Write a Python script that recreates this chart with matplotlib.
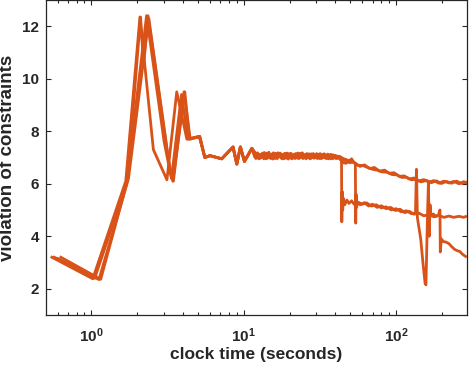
import matplotlib
matplotlib.use("Agg")
import matplotlib.pyplot as plt
from matplotlib.ticker import FixedLocator, LogLocator, NullFormatter, NullLocator

plt.rcParams['font.family'] = ['Liberation Sans', 'DejaVu Sans']
plt.rcParams['font.weight'] = 'bold'
plt.rcParams['mathtext.fontset'] = 'custom'
plt.rcParams['mathtext.bf'] = 'Liberation Sans:bold'
plt.rcParams['mathtext.rm'] = 'Liberation Sans:bold'

COLOR = '#D95319'
AXC = '#262626'

# ---------------- data ----------------
# early transient, one list per run
a_early_x = [0.55, 1.02, 1.68, 2.08, 2.55, 3.13, 3.63, 4.23, 5.10]
a_early_y = [3.20, 2.38, 6.10, 12.35, 7.30, 6.15, 9.50, 7.70, 7.80]
b_early_x = [0.63, 1.15, 1.72, 2.10, 2.20, 2.35, 3.20, 3.42, 4.10, 4.40, 5.14]
b_early_y = [3.20, 2.36, 6.10, 12.35, 10.50, 12.40, 6.90, 6.10, 9.50, 7.70, 7.80]
c_early_x = [0.57, 1.05, 1.70, 2.30, 3.00, 3.35, 3.90, 4.30, 5.12]
c_early_y = [3.20, 2.40, 6.00, 12.40, 7.60, 6.20, 9.40, 7.70, 7.80]
d_early_x = [0.60, 1.12, 1.75, 2.38, 3.30, 3.45, 4.05, 4.45, 5.14]
d_early_y = [3.15, 2.35, 6.20, 12.30, 6.40, 6.10, 9.50, 7.70, 7.80]

# shared settling segment
settle_x = [5.55, 6.00, 7.17, 8.50, 9.00, 9.50, 10.1, 11.3]
settle_y = [7.00, 7.07, 6.95, 7.40, 6.75, 7.40, 6.85, 7.35]

# noisy plateau, each run sampled at its own times
a_plat_x = [11.8, 12.3, 12.9, 13.4, 14.0, 14.6, 15.2, 15.9, 16.6, 17.3, 18.0,
            18.8, 19.6, 20.4, 21.3, 22.2, 23.2, 24.2, 25.2, 26.3, 27.4, 28.6,
            29.8, 31.1, 32.4, 33.8, 35.2, 36.7, 38.3, 39.9, 41.6]
b_plat_x = [11.9, 12.4, 13.0, 13.55, 14.15, 14.75, 15.35, 16.05, 16.75, 17.5,
            18.2, 19.0, 19.8, 20.6, 21.5, 22.4, 23.4, 24.45, 25.45, 26.55,
            27.7, 28.9, 30.1, 31.4, 32.7, 34.1, 35.55, 37.05, 38.7, 40.3, 41.9]
c_plat_x = [12.0, 12.55, 13.15, 13.65, 14.3, 14.9, 15.5, 16.2, 16.9, 17.65,
            18.35, 19.2, 20.0, 20.8, 21.7, 22.65, 23.65, 24.7, 25.7, 26.8,
            27.95, 29.15, 30.4, 31.7, 33.05, 34.5, 35.9, 37.45, 39.05, 40.7,
            42.4]
d_plat_x = [12.15, 12.65, 13.3, 13.8, 14.4, 15.05, 15.65, 16.4, 17.1, 17.8,
            18.55, 19.35, 20.2, 21.0, 21.95, 22.85, 23.9, 24.9, 25.95, 27.1,
            28.2, 29.45, 30.7, 32.0, 33.35, 34.8, 36.25, 37.8, 39.45, 41.1,
            42.85]
a_plat_y = [7.02, 7.18, 6.98, 7.15, 6.95, 7.20, 7.00, 7.12, 6.96, 7.17, 6.99,
            7.14, 6.94, 7.16, 7.01, 7.13, 6.97, 7.18, 6.98, 7.11, 6.95, 7.15,
            7.00, 7.12, 6.96, 7.14, 6.98, 7.10, 6.95, 7.08, 6.97]
b_plat_y = [7.16, 6.97, 7.13, 6.95, 7.17, 6.99, 7.14, 6.96, 7.18, 7.00, 7.12,
            6.97, 7.15, 6.95, 7.13, 6.98, 7.16, 6.96, 7.12, 6.99, 7.14, 6.97,
            7.15, 6.96, 7.11, 6.98, 7.13, 6.95, 7.10, 6.96, 7.05]
c_plat_y = [6.96, 7.12, 7.00, 7.19, 6.97, 7.10, 6.94, 7.16, 7.02, 7.13, 6.95,
            7.17, 6.99, 7.11, 6.96, 7.17, 7.00, 7.12, 6.95, 7.14, 6.99, 7.10,
            6.96, 7.15, 6.99, 7.09, 6.95, 7.12, 6.98, 7.06, 7.00]
d_plat_y = [7.10, 6.95, 7.17, 7.01, 7.12, 6.96, 7.18, 6.98, 7.11, 6.95, 7.16,
            7.00, 7.13, 6.97, 7.15, 6.96, 7.11, 6.99, 7.15, 6.96, 7.12, 6.99,
            7.11, 6.97, 7.13, 6.96, 7.10, 6.99, 7.07, 6.97, 7.03]

# upper tail (runs A and D stay here)
a_tail_x = [44, 47, 50, 54, 58, 62, 67, 72, 78, 84, 90, 97, 105, 113, 122,
            131, 141, 152, 164, 177, 191, 206, 222, 239, 258, 278, 292]
a_tail_y = [6.98, 6.92, 6.86, 6.78, 6.66, 6.72, 6.58, 6.62, 6.48, 6.52, 6.40,
            6.42, 6.28, 6.30, 6.18, 6.22, 6.10, 6.16, 6.06, 6.12, 6.02, 6.10,
            6.03, 6.09, 6.00, 6.08, 6.02]
d_tail_x = [43, 45, 47, 49, 51, 53, 56, 60, 65, 70, 75, 81, 87, 94, 101, 109,
            117, 126, 136, 146, 158, 170, 184, 198, 214, 231, 249, 268, 290]
d_tail_y = [6.92, 6.80, 6.78, 6.86, 6.95, 6.80, 6.70, 6.70, 6.62, 6.55, 6.52,
            6.45, 6.44, 6.35, 6.34, 6.24, 6.25, 6.15, 6.17, 6.07, 6.13, 6.04,
            6.11, 6.01, 6.09, 6.02, 6.10, 6.01, 6.06]

# run B drops at ~44 s to the middle branch
b_tail_x = [43.8, 44.0, 44.3, 44.6, 45, 46, 47.5, 49, 51, 53, 55, 58, 62, 66,
            70, 75, 80, 86, 92, 99, 106, 114, 122, 131, 141, 152, 164, 177,
            191, 206, 222, 239, 258, 278, 286]
b_tail_y = [7.00, 4.55, 5.70, 5.00, 5.45, 5.20, 5.38, 5.25, 5.35, 5.22, 5.32,
            5.20, 5.28, 5.15, 5.22, 5.10, 5.16, 5.05, 5.10, 4.98, 5.03, 4.90,
            4.95, 4.84, 4.88, 4.78, 4.82, 4.74, 4.79, 4.72, 4.77, 4.72, 4.76,
            4.72, 4.75]

# run C drops at ~54 s, dips near 156 s and ends lowest
c_tail_x = [44, 47, 50, 52, 54.0, 54.3, 54.6, 55, 56, 60, 64, 69, 74, 80, 86,
            93, 100, 108, 117, 126, 134, 136, 138, 145, 150, 155, 157, 161,
            163, 165, 167, 169, 175, 183, 190, 194, 195, 198, 204, 212, 222,
            232, 242, 252, 262, 272, 286]
c_tail_y = [6.95, 6.86, 6.80, 6.85, 6.78, 4.50, 5.60, 5.10, 5.30, 5.22, 5.27,
            5.15, 5.20, 5.08, 5.12, 5.00, 5.05, 4.93, 4.97, 4.86, 4.88, 6.55,
            4.70, 3.90, 3.00, 2.20, 2.15, 5.00, 6.05, 4.00, 5.20, 4.78, 4.85,
            4.76, 4.82, 5.00, 3.40, 3.90, 3.80, 3.78, 3.72, 3.60, 3.50, 3.45,
            3.42, 3.32, 3.23]

runs = [
    (a_early_x, a_early_y, a_plat_x, a_plat_y, a_tail_x, a_tail_y),
    (b_early_x, b_early_y, b_plat_x, b_plat_y, b_tail_x, b_tail_y),
    (c_early_x, c_early_y, c_plat_x, c_plat_y, c_tail_x, c_tail_y),
    (d_early_x, d_early_y, d_plat_x, d_plat_y, d_tail_x, d_tail_y),
]

x_ticks = [1, 10, 100]
x_tick_labels = [r'$\mathbf{10^{0}}$', r'$\mathbf{10^{1}}$', r'$\mathbf{10^{2}}$']
y_ticks = [2, 4, 6, 8, 10, 12]

# ---------------- figure ----------------
fig = plt.figure(figsize=(4.69, 3.71), dpi=100)
ax = fig.add_axes([46 / 469, 56 / 371, 421 / 469, 315 / 371])

for ex, ey, px, py, tx, ty in runs:
    xs = list(ex) + list(settle_x) + list(px) + list(tx)
    ys = list(ey) + list(settle_y) + list(py) + list(ty)
    ax.plot(xs, ys, color=COLOR, lw=2.0, solid_joinstyle='round')

ax.set_xscale('log')
ax.set_xlim(0.503, 292)
ax.set_ylim(1, 13)
ax.xaxis.set_major_locator(FixedLocator(x_ticks))
ax.set_xticklabels(x_tick_labels)
ax.xaxis.set_minor_locator(LogLocator(base=10, subs=[2, 3, 4, 5, 6, 7, 8, 9]))
ax.xaxis.set_minor_formatter(NullFormatter())
ax.set_yticks(y_ticks)
ax.yaxis.set_minor_locator(NullLocator())

for s in ax.spines.values():
    s.set_color(AXC)
    s.set_linewidth(0.9)
ax.tick_params(which='both', direction='in', top=True, right=True,
               colors=AXC, width=0.8)
ax.tick_params(which='major', length=3.5)
ax.tick_params(which='minor', length=2)
ax.tick_params(axis='x', which='major', labelsize=11, pad=8)
ax.tick_params(axis='y', which='major', labelsize=11, pad=5)
for lab in ax.get_yticklabels():
    lab.set_fontweight('bold')

ax.set_xlabel('clock time (seconds)', fontsize=12.5, fontweight='bold',
              color=AXC, labelpad=2)
ax.set_ylabel('violation of constraints', fontsize=13.5, fontweight='bold',
              color=AXC, labelpad=4)

fig.savefig('out.png', dpi=100)
